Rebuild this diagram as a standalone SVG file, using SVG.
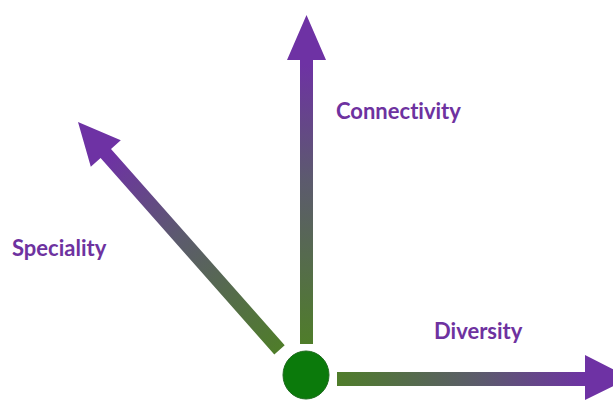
<svg xmlns="http://www.w3.org/2000/svg" width="613" height="401" viewBox="0 0 613 401">
<style>
.lbl{font-family:Lato,"Open Sans","Liberation Sans",sans-serif;font-weight:bold;font-size:22px;fill:#6E32A0;font-variant-ligatures:none}
</style>
<defs>
<linearGradient id="gV" gradientUnits="userSpaceOnUse" x1="0" y1="344" x2="0" y2="15">
<stop offset="0" stop-color="#4F7D2A"/><stop offset="0.5" stop-color="#5C5A6E"/><stop offset="0.85" stop-color="#6E32A4"/>
</linearGradient>
<linearGradient id="gH" gradientUnits="userSpaceOnUse" x1="337" y1="0" x2="630" y2="0">
<stop offset="0" stop-color="#4F7D2A"/><stop offset="0.5" stop-color="#5C5A6E"/><stop offset="0.85" stop-color="#6E32A4"/>
</linearGradient>
<linearGradient id="gD" gradientUnits="userSpaceOnUse" x1="280" y1="350" x2="78" y2="122">
<stop offset="0" stop-color="#4F7D2A"/><stop offset="0.5" stop-color="#5C5A6E"/><stop offset="0.85" stop-color="#6E32A4"/>
</linearGradient>
</defs>
<g id="connectors">
<path id="arrow-connectivity" fill="url(#gV)" d="M300,344 L300,60 L287,60 L306.5,15 L326,60 L313,60 L313,344 Z"/>
<path id="arrow-diversity" fill="url(#gH)" d="M337,372 L585,372 L585,355 L630,378 L585,400 L585,386 L337,386 Z"/>
<path id="arrow-speciality" fill="url(#gD)" d="M284.7,345.2 L111,148.9 L120.8,140.2 L78,122 L90.8,166.8 L100.6,158.1 L274.3,354.4 Z"/>
</g>
<g id="origin">
<ellipse cx="306" cy="375" rx="23" ry="24" fill="#0B7A0B" stroke="#1E6B1E" stroke-width="1"/>
</g>
<g id="label-connectivity"><text class="lbl" x="336" y="119">Connectivity</text></g>
<g id="label-speciality"><text class="lbl" x="12" y="256">Speciality</text></g>
<g id="label-diversity"><text class="lbl" x="434" y="339">Diversity</text></g>
</svg>
